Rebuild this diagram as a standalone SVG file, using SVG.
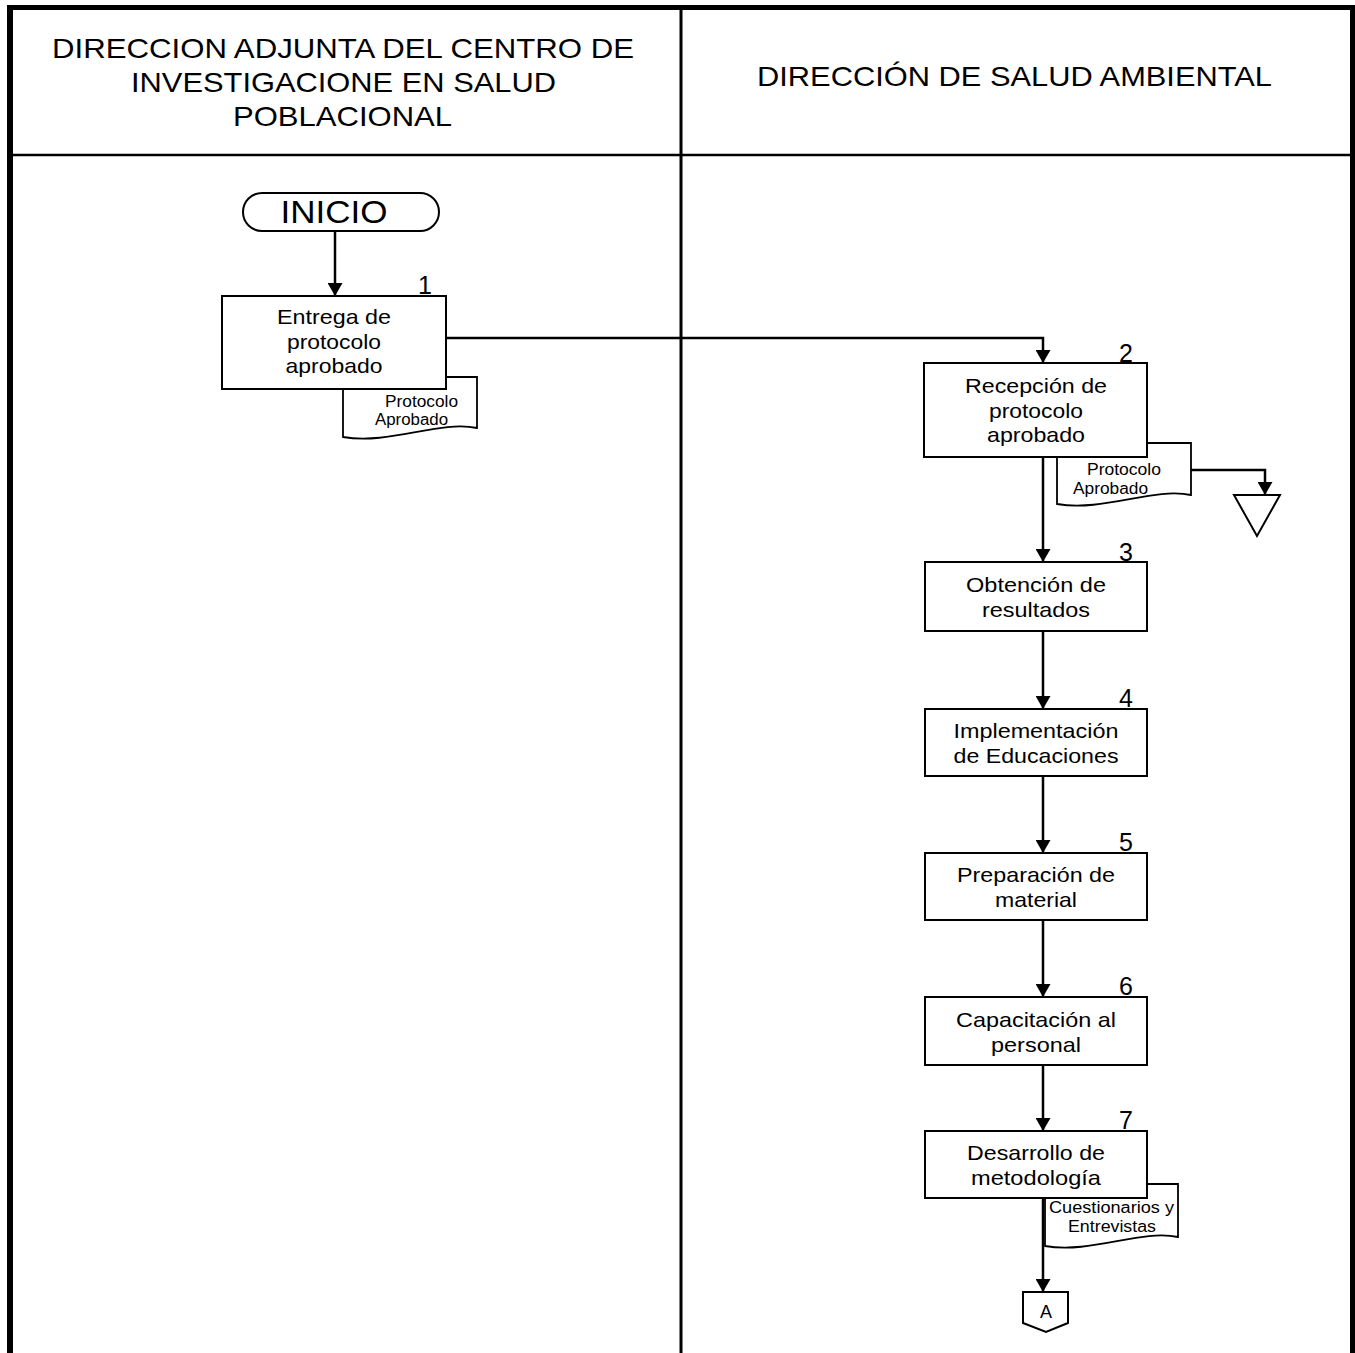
<svg xmlns="http://www.w3.org/2000/svg" width="1355" height="1353" viewBox="0 0 1355 1353">
<style>
text{font-family:"Liberation Sans",Arial,sans-serif;fill:#000}
.hd{font-size:28px;text-anchor:middle}
.bt{font-size:21px;text-anchor:middle}
.dt{font-size:16px;text-anchor:middle}
.num{font-size:25px;text-anchor:end}
.box{fill:#fff;stroke:#000;stroke-width:2}
.doc{fill:#fff;stroke:#000;stroke-width:1.8}
.con{fill:none;stroke:#000;stroke-width:2.5}
</style>
<defs>
<marker id="ah" markerUnits="userSpaceOnUse" markerWidth="13" markerHeight="15" refX="13" refY="7.5" orient="auto">
<path d="M0,0 L13,7.5 L0,15 Z" fill="#000"/>
</marker>
</defs>
<rect width="1355" height="1353" fill="#fff"/>
<g id="lanes">
<line x1="10" y1="7.5" x2="1352.5" y2="7.5" stroke="#000" stroke-width="5"/>
<line x1="10" y1="5" x2="10" y2="1353" stroke="#000" stroke-width="6"/>
<line x1="1352.5" y1="5" x2="1352.5" y2="1353" stroke="#000" stroke-width="5"/>
<line x1="681" y1="5" x2="681" y2="1353" stroke="#000" stroke-width="3"/>
<line x1="10" y1="155" x2="1352" y2="155" stroke="#000" stroke-width="2.5"/>
<text class="hd" x="343" y="58" textLength="582" lengthAdjust="spacingAndGlyphs">DIRECCION ADJUNTA DEL CENTRO DE</text>
<text class="hd" x="343.5" y="92" textLength="425" lengthAdjust="spacingAndGlyphs">INVESTIGACIONE EN SALUD</text>
<text class="hd" x="342.5" y="126" textLength="219" lengthAdjust="spacingAndGlyphs">POBLACIONAL</text>
<text class="hd" x="1014.5" y="86" textLength="515" lengthAdjust="spacingAndGlyphs">DIRECCIÓN DE SALUD AMBIENTAL</text>
</g>
<g id="connectors">
<path class="con" d="M335,231 V296" marker-end="url(#ah)"/>
<path class="con" d="M446,338 H1043 V363" marker-end="url(#ah)"/>
<path class="con" d="M1043,457 V562" marker-end="url(#ah)"/>
<path class="con" d="M1191,470 H1265 V495" marker-end="url(#ah)"/>
<path class="con" d="M1043,631 V709" marker-end="url(#ah)"/>
<path class="con" d="M1043,776 V853" marker-end="url(#ah)"/>
<path class="con" d="M1043,920 V997" marker-end="url(#ah)"/>
<path class="con" d="M1043,1065 V1131" marker-end="url(#ah)"/>
<path class="con" d="M1043,1198 V1292" marker-end="url(#ah)"/>
</g>
<g id="inicio">
<rect class="box" x="243" y="193" width="196" height="38" rx="19" ry="19"/>
<text x="334" y="223" font-size="32" text-anchor="middle" textLength="107" lengthAdjust="spacingAndGlyphs">INICIO</text>
</g>
<g id="doc1">
<path class="doc" d="M343,377 H477 V428 C439.5,420 390,445 343,437 Z"/>
<text class="dt" x="421.5" y="407" textLength="73" lengthAdjust="spacingAndGlyphs">Protocolo</text>
<text class="dt" x="411.5" y="425" textLength="73" lengthAdjust="spacingAndGlyphs">Aprobado</text>
</g>
<g id="step1">
<rect class="box" x="222" y="296" width="224" height="93"/>
<text class="num" x="432" y="294">1</text>
<text class="bt" x="334" y="324" textLength="114" lengthAdjust="spacingAndGlyphs">Entrega de</text>
<text class="bt" x="334" y="349" textLength="94" lengthAdjust="spacingAndGlyphs">protocolo</text>
<text class="bt" x="334" y="373" textLength="97" lengthAdjust="spacingAndGlyphs">aprobado</text>
</g>
<g id="doc2">
<path class="doc" d="M1057,443 H1191 V495 C1153.5,487 1104,512 1057,504 Z"/>
<text class="dt" x="1124" y="475" textLength="74" lengthAdjust="spacingAndGlyphs">Protocolo</text>
<text class="dt" x="1110.5" y="494" textLength="75" lengthAdjust="spacingAndGlyphs">Aprobado</text>
</g>
<g id="step2">
<rect class="box" x="924" y="363" width="223" height="94"/>
<text class="num" x="1133" y="362">2</text>
<text class="bt" x="1036" y="393" textLength="142" lengthAdjust="spacingAndGlyphs">Recepción de</text>
<text class="bt" x="1036" y="418" textLength="94" lengthAdjust="spacingAndGlyphs">protocolo</text>
<text class="bt" x="1036" y="442" textLength="98" lengthAdjust="spacingAndGlyphs">aprobado</text>
</g>
<g id="archive">
<path class="box" d="M1234,495 H1280 L1257,536 Z"/>
</g>
<g id="step3">
<rect class="box" x="925" y="562" width="222" height="69"/>
<text class="num" x="1133" y="561">3</text>
<text class="bt" x="1036" y="592" textLength="140" lengthAdjust="spacingAndGlyphs">Obtención de</text>
<text class="bt" x="1036" y="617" textLength="108" lengthAdjust="spacingAndGlyphs">resultados</text>
</g>
<g id="step4">
<rect class="box" x="925" y="709" width="222" height="67"/>
<text class="num" x="1133" y="707">4</text>
<text class="bt" x="1036" y="738" textLength="165" lengthAdjust="spacingAndGlyphs">Implementación</text>
<text class="bt" x="1036" y="763" textLength="165" lengthAdjust="spacingAndGlyphs">de Educaciones</text>
</g>
<g id="step5">
<rect class="box" x="925" y="853" width="222" height="67"/>
<text class="num" x="1133" y="851">5</text>
<text class="bt" x="1036" y="882" textLength="158" lengthAdjust="spacingAndGlyphs">Preparación de</text>
<text class="bt" x="1036" y="907" textLength="82" lengthAdjust="spacingAndGlyphs">material</text>
</g>
<g id="step6">
<rect class="box" x="925" y="997" width="222" height="68"/>
<text class="num" x="1133" y="995">6</text>
<text class="bt" x="1036" y="1027" textLength="160" lengthAdjust="spacingAndGlyphs">Capacitación al</text>
<text class="bt" x="1036" y="1052" textLength="90" lengthAdjust="spacingAndGlyphs">personal</text>
</g>
<g id="doc7">
<path class="doc" d="M1045,1184 H1178 V1237 C1140.8,1229 1091.5,1254 1045,1246 Z"/>
<text class="dt" x="1111.5" y="1213" textLength="125" lengthAdjust="spacingAndGlyphs">Cuestionarios y</text>
<text class="dt" x="1112" y="1232" textLength="88" lengthAdjust="spacingAndGlyphs">Entrevistas</text>
</g>
<g id="step7">
<rect class="box" x="925" y="1131" width="222" height="67"/>
<text class="num" x="1133" y="1129">7</text>
<text class="bt" x="1036" y="1160" textLength="138" lengthAdjust="spacingAndGlyphs">Desarrollo de</text>
<text class="bt" x="1036" y="1185" textLength="130" lengthAdjust="spacingAndGlyphs">metodología</text>
</g>
<g id="offpage-A">
<path class="box" d="M1023,1292 H1068 V1323 L1046,1332 L1023,1323 Z"/>
<text x="1046" y="1318" font-size="18" text-anchor="middle">A</text>
</g>
</svg>
